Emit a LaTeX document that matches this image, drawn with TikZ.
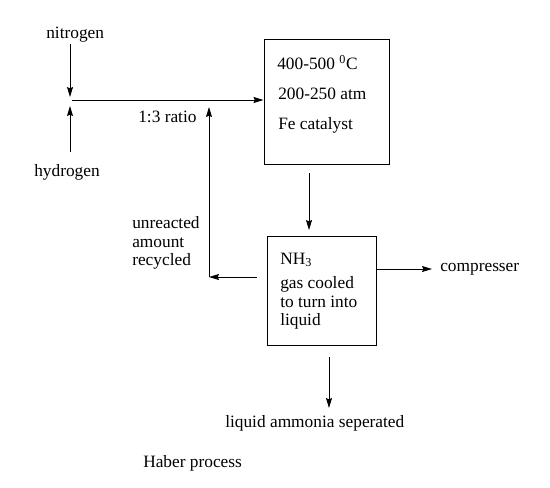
\documentclass[tikz,border=0pt]{standalone}
\usepackage{fontspec}
\setmainfont{Liberation Serif}
\usetikzlibrary{arrows.meta}
\begin{document}
\begin{tikzpicture}[x=0.75pt,y=-0.75pt,
  lbl/.style={font=\fontsize{13}{15}\selectfont, inner sep=0pt, anchor=base west},
  boxn/.style={draw, line width=0.75pt, inner sep=0pt},
  conn/.style={line width=0.75pt, -{Stealth[length=7.5pt,width=4.5pt,inset=1pt]}},
  plain/.style={line width=0.75pt}]
\useasboundingbox (0,0) rectangle (550,487);
% boxes
\node[boxn, minimum width=125*0.75pt, minimum height=125*0.75pt] (box1) at (326.5,101.5) {};
\node[boxn, minimum width=109*0.75pt, minimum height=109*0.75pt] (box2) at (321.5,290.5) {};
% texts
\node[lbl] (nitro) at (46,38) {nitrogen};
\node[lbl] (hydro) at (34,176) {hydrogen};
\node[lbl] (ratio) at (138,122) {1:3 ratio};
\node[lbl] (t1) at (277,69) {400-500 \textsuperscript{0}C};
\node[lbl] (t2) at (278,99) {200-250 atm};
\node[lbl] (t3) at (278,129) {Fe catalyst};
\node[lbl] (n1) at (280,264) {NH\textsubscript{3}};
\node[lbl] (n2) at (280,288) {gas cooled};
\node[lbl] (n3) at (280,307) {to turn into};
\node[lbl] (n4) at (280,325) {liquid};
\node[lbl] (u1) at (132,228) {unreacted};
\node[lbl] (u2) at (132,247) {amount};
\node[lbl] (u3) at (132,265) {recycled};
\node[lbl] (comp) at (440,271) {compresser};
\node[lbl] (liq) at (225,427) {liquid ammonia seperated};
\node[lbl] (haber) at (143,467) {Haber process};
% coordinates
\coordinate (nA) at (70,44);
\coordinate (nB) at (70,97);
\coordinate (hA) at (70,152);
\coordinate (hB) at (70,106);
\coordinate (mix) at (72,100);
\coordinate (dA) at (309,173);
\coordinate (dB) at (309,230);
\coordinate (rA) at (257,277);
\coordinate (rC) at (209,277);
\coordinate (rB) at (209,107);
\coordinate (cA) at (376,269);
\coordinate (cB) at (432,269);
\coordinate (bA) at (329,357);
\coordinate (bB) at (329,408);
% connectors
\draw[conn] (nA) -- (nB);
\draw[conn] (hA) -- (hB);
\draw[conn] (mix) -- (mix -| box1.west);
\draw[conn] (dA) -- (dB);
\draw[conn] (rA) -- (rC);
\draw[conn] (rC) -- (rB);
\draw[conn] (cA) -- (cB);
\draw[conn] (bA) -- (bB);
\end{tikzpicture}
\end{document}
